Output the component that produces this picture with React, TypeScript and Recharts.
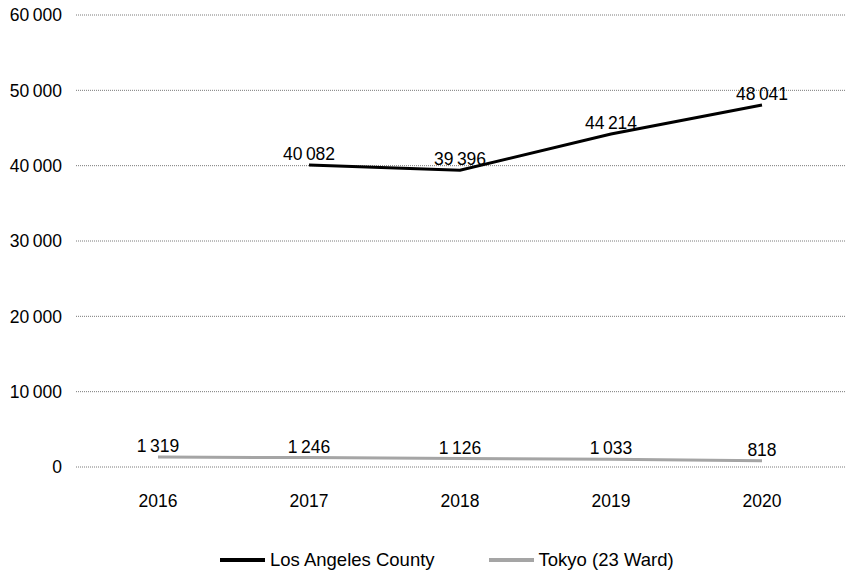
import { LineChart, Line, XAxis, YAxis, CartesianGrid, Legend, LabelList } from "recharts";

const years = ["2016", "2017", "2018", "2019", "2020"];
const losAngeles = [null, 40082, 39396, 44214, 48041];
const tokyo = [1319, 1246, 1126, 1033, 818];
const yTicks = [0, 10000, 20000, 30000, 40000, 50000, 60000];

const series = [
  { key: "la", name: "Los Angeles County", color: "#000000" },
  { key: "tokyo", name: "Tokyo (23 Ward)", color: "#a5a5a5" },
];

const data = years.map((year, i) => ({ year, la: losAngeles[i], tokyo: tokyo[i] }));

const FONT = "'Liberation Sans', Arial, sans-serif";
const FS = 17.5;

// thin space as thousands separator
const fmt = (v: any) =>
  v == null ? "" : String(v).replace(/\B(?=(\d{3})+(?!\d))/g, "\u2009");

const renderLegend = (props: any) => (
  <div style={{ display: "flex", fontFamily: FONT, fontSize: 18.5, lineHeight: "20px", color: "#000" }}>
    {(props.payload || []).map((p: any) => (
      <div key={p.value} style={{ display: "flex", alignItems: "center", marginRight: 54 }}>
        <span style={{ display: "inline-block", width: 45, height: 4, background: p.color, marginRight: 5 }} />
        <span>{p.value}</span>
      </div>
    ))}
  </div>
);

export default function App() {
  return (
    <div style={{ position: "absolute", left: 0, top: 0, background: "#fff" }}>
      <LineChart
        width={850}
        height={575}
        data={data}
        margin={{ top: 15, right: 5, bottom: 0, left: 0 }}
      >
        <CartesianGrid vertical={false} stroke="#7a7a7a" strokeDasharray="1 1" />
        <XAxis
          dataKey="year"
          axisLine={false}
          tickLine={false}
          tickMargin={22}
          height={88}
          padding={{ left: 82, right: 83 }}
          tick={{ fill: "#000", fontSize: FS, fontFamily: FONT }}
        />
        <YAxis
          domain={[0, 60000]}
          ticks={yTicks}
          width={76}
          axisLine={false}
          tickLine={false}
          tickMargin={8}
          tickFormatter={fmt}
          tick={{ fill: "#000", fontSize: FS, fontFamily: FONT }}
        />
        <Legend
          content={renderLegend}
          wrapperStyle={{ left: 220, top: 550, width: 560 }}
        />
        {series.map((s) => (
          <Line
            key={s.key}
            dataKey={s.key}
            name={s.name}
            stroke={s.color}
            strokeWidth={3}
            dot={false}
            isAnimationActive={false}
          >
            <LabelList
              dataKey={s.key}
              position="top"
              offset={5}
              formatter={fmt}
              style={{ fill: "#000", fontSize: FS, fontFamily: FONT }}
            />
          </Line>
        ))}
      </LineChart>
    </div>
  );
}
